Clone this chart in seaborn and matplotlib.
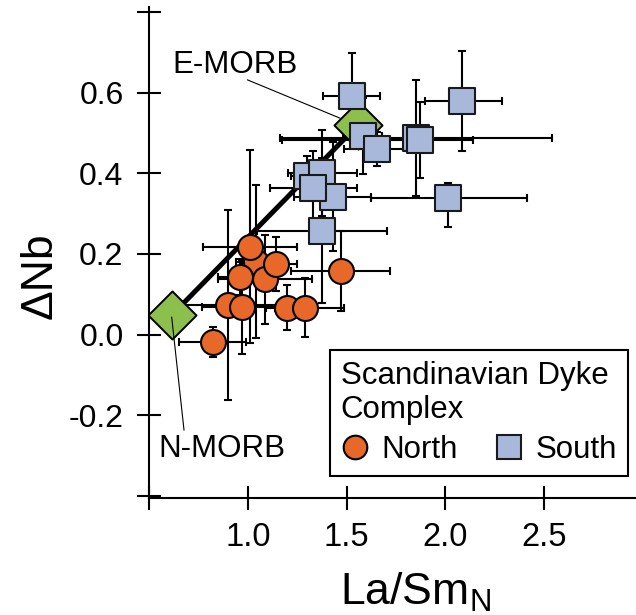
import matplotlib
matplotlib.use("Agg")
import matplotlib.pyplot as plt
from matplotlib.lines import Line2D
import seaborn as sns
import pandas as pd

# North group (Scandinavian Dyke Complex)
north_x = [1.041, 1.086, 1.141, 1.010, 0.960, 0.900, 0.968, 1.199, 1.289, 0.821, 1.470]
north_y = [0.181, 0.137, 0.175, 0.218, 0.143, 0.073, 0.068, 0.067, 0.067, -0.018, 0.158]
north_xerr = [0.10, 0.24, 0.11, 0.24, 0.11, 0.28, 0.20, 0.06, 0.20, 0.17, 0.25]
north_yerr = [0.19, 0.11, 0.068, 0.24, 0.045, 0.235, 0.115, 0.056, 0.073, 0.037, 0.10]

# South group
south_x = [1.298, 1.377, 1.430, 1.331, 1.377, 2.014, 1.526, 1.582, 1.656, 1.852, 1.872, 2.086]
south_y = [0.392, 0.401, 0.342, 0.364, 0.258, 0.338, 0.592, 0.493, 0.460, 0.487, 0.483, 0.578]
south_xerr_lo = [0.08, 0.175, 0.195, 0.22, 0.33, 0.39, 0.145, 0.10, 0.17, 0.69, 0.70, 0.19]
south_xerr_hi = [0.08, 0.175, 0.195, 0.22, 0.33, 0.40, 0.145, 0.10, 0.17, 0.69, 0.27, 0.20]
south_yerr_lo = [0.05, 0.107, 0.135, 0.09, 0.18, 0.072, 0.106, 0.094, 0.043, 0.144, 0.094, 0.124]
south_yerr_hi = [0.05, 0.107, 0.135, 0.09, 0.18, 0.039, 0.106, 0.094, 0.043, 0.144, 0.094, 0.124]

# N-MORB and E-MORB end members
morb_names = ["N-MORB", "E-MORB"]
morb_x = [0.6135, 1.559]
morb_y = [0.048, 0.520]

xticks = [0.5, 1.0, 1.5, 2.0, 2.5]
xticklabels = ["", "1.0", "1.5", "2.0", "2.5"]
yticks = [-0.4, -0.2, 0.0, 0.2, 0.4, 0.6, 0.8]
yticklabels = ["", "-0.2", "0.0", "0.2", "0.4", "0.6", ""]

orange = "#E8682A"
blue = "#A7B8DA"
green = "#8CBF4E"

sns.set_style("ticks")
plt.rcParams["font.family"] = ["Liberation Sans", "DejaVu Sans"]
plt.rcParams["mathtext.fontset"] = "custom"
plt.rcParams["mathtext.rm"] = "Liberation Sans"
plt.rcParams["text.color"] = "black"
plt.rcParams["axes.labelcolor"] = "black"

north = pd.DataFrame({"x": north_x, "y": north_y})
south = pd.DataFrame({"x": south_x, "y": south_y})
morb = pd.DataFrame({"x": morb_x, "y": morb_y, "name": morb_names})

fig = plt.figure(figsize=(6.36, 6.15), dpi=100)
ax = fig.add_axes([149.3 / 636, 117 / 615, 486.7 / 636, 491 / 615])

# error bars first
ax.errorbar(south_x, south_y, xerr=[south_xerr_lo, south_xerr_hi],
            yerr=[south_yerr_lo, south_yerr_hi], fmt="none", ecolor="black",
            elinewidth=1.5, capsize=2.8, capthick=1.5, zorder=2)
ax.errorbar(north_x, north_y, xerr=north_xerr, yerr=north_yerr, fmt="none",
            ecolor="black", elinewidth=1.5, capsize=2.8, capthick=1.5, zorder=2)

# mixing line between end members
sns.lineplot(data=morb, x="x", y="y", color="black", lw=3.6, sort=False,
             ax=ax, zorder=2.5)
sns.scatterplot(data=morb, x="x", y="y", marker="D", s=600, color=green,
                edgecolor="black", linewidth=1.4, ax=ax, zorder=3)

sns.scatterplot(data=south, x="x", y="y", marker="s", s=350, color=blue,
                edgecolor="#1a1a1a", linewidth=1.5, ax=ax, zorder=4)
sns.scatterplot(data=north, x="x", y="y", marker="o", s=324, color=orange,
                edgecolor="black", linewidth=1.5, ax=ax, zorder=4)

# labels for end members
ax.text(0.933, 0.669, "E-MORB", fontsize=22.5, ha="center", va="center")
ax.plot([0.997, 1.4665], [0.6315, 0.5365], color="black", lw=0.8, zorder=5)
ax.text(0.868, -0.284, "N-MORB", fontsize=22.5, ha="center", va="center")
ax.plot([0.6135, 0.676], [0.0434, -0.237], color="black", lw=0.8, zorder=5)

ax.set_xlim(0.5, 2.967)
ax.set_ylim(-0.405, 0.812)
ax.set_xticks(xticks)
ax.set_xticklabels(xticklabels)
ax.set_yticks(yticks)
ax.set_yticklabels(yticklabels)
ax.tick_params(axis="both", direction="inout", length=17, width=1.5,
               colors="black")
ax.tick_params(axis="x", labelsize=23.5, pad=9)
ax.tick_params(axis="y", labelsize=23, pad=10)
for side in ["top", "right"]:
    ax.spines[side].set_visible(False)
for side in ["left", "bottom"]:
    ax.spines[side].set_linewidth(1.5)
    ax.spines[side].set_color("black")

ax.set_xlabel("")
ax.set_ylabel("")
ax.text(0.546, -0.217, r"La/Sm$_\mathregular{N}$", fontsize=32,
        ha="center", va="baseline", transform=ax.transAxes)
ax.text(-0.2246, 0.452, "\u0394Nb", fontsize=32, rotation=90,
        ha="center", va="center", transform=ax.transAxes)

handles = [
    Line2D([], [], ls="", marker="o", markersize=17, markerfacecolor=orange,
           markeredgecolor="black", markeredgewidth=1.5, label="North"),
    Line2D([], [], ls="", marker="s", markersize=17, markerfacecolor=blue,
           markeredgecolor="#1a1a1a", markeredgewidth=1.5, label="South"),
]
leg = ax.legend(handles=handles, title="Scandinavian Dyke\nComplex",
                ncol=2, loc="lower right", bbox_to_anchor=(0.984, 0.0454),
                fontsize=22.5, title_fontsize=22.5, alignment="left",
                frameon=True, fancybox=False, framealpha=1,
                edgecolor="black", handlelength=0.9, handletextpad=0.4,
                columnspacing=1.2, borderpad=0.35, borderaxespad=0,
                labelspacing=0.3)
leg.get_frame().set_linewidth(1.5)

fig.savefig("out.png", dpi=100)
